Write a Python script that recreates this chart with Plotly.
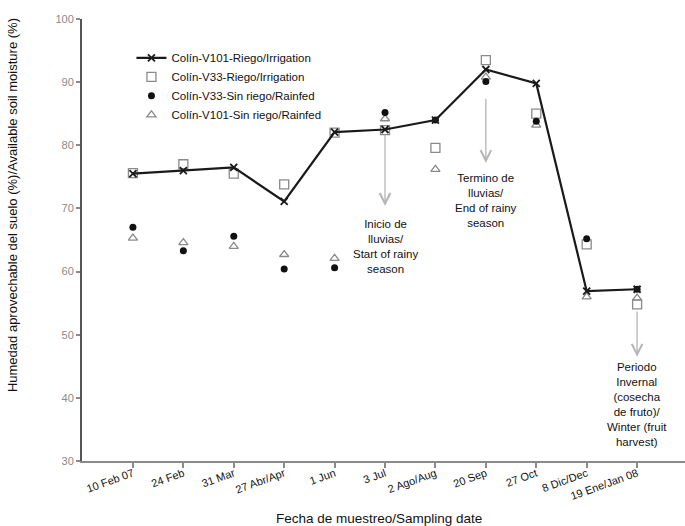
import plotly.graph_objects as go

dates = ["10 Feb 07", "24 Feb", "31 Mar", "27 Abr/Apr", "1 Jun", "3 Jul",
         "2 Ago/Aug", "20 Sep", "27 Oct", "8 Dic/Dec", "19 Ene/Jan 08"]
v101_riego = [75.5, 76.0, 76.5, 71.1, 82.1, 82.5, 84.0, 92.0, 89.8, 56.9, 57.2]
v33_riego = [75.6, 77.0, 75.5, 73.8, 82.0, 82.4, 79.6, 93.5, 85.0, 64.3, 54.8]
v33_rainfed = [67.0, 63.3, 65.6, 60.4, 60.6, 85.2, 84.0, 90.1, 83.8, 65.2, 57.2]
v101_rainfed = [65.3, 64.6, 64.0, 62.7, 62.1, 84.2, 76.2, 90.8, 83.2, 56.0, 55.8]

names = ["Colín-V101-Riego/Irrigation", "Colín-V33-Riego/Irrigation",
         "Colín-V33-Sin riego/Rainfed", "Colín-V101-Sin riego/Rainfed"]

y_ticks = [30, 40, 50, 60, 70, 80, 90, 100]

# annotation texts: (category index, text center y, arrow tail y, arrow head y)
notes = [
    (5, 64.0, 81.9, 70.4, "Inicio de<br>lluvias/<br>Start of rainy<br>season"),
    (7, 71.3, 87.6, 77.2, "Termino de<br>lluvias/<br>End of rainy<br>season"),
    (10, 39.0, 53.9, 46.5, "Periodo<br>Invernal<br>(cosecha<br>de fruto)/<br>Winter (fruit<br>harvest)"),
]

idx = list(range(len(dates)))
fig = go.Figure()

fig.add_trace(go.Scatter(x=idx, y=v33_riego, mode="markers", name=names[1], legendrank=2,
                         marker=dict(symbol="square-open", size=9, color="#8a8a8a",
                                     line=dict(width=1.3))))
fig.add_trace(go.Scatter(x=idx, y=v101_rainfed, mode="markers", name=names[3], legendrank=4,
                         marker=dict(symbol="triangle-up-open", size=8, color="#8a8a8a",
                                     line=dict(width=1.3))))
fig.add_trace(go.Scatter(x=idx, y=v33_rainfed, mode="markers", name=names[2], legendrank=3,
                         marker=dict(symbol="circle", size=7, color="#111111")))
fig.add_trace(go.Scatter(x=idx, y=v101_riego, mode="lines+markers", name=names[0], legendrank=1,
                         line=dict(color="#1a1a1a", width=2.2),
                         marker=dict(symbol="x-thin", size=7, color="#1a1a1a",
                                     line=dict(width=1.8, color="#1a1a1a"))))

for ci, ty, tail, head, txt in notes:
    fig.add_annotation(x=ci, y=head, ax=ci, ay=tail, axref="x", ayref="y", xref="x", yref="y",
                       text="", showarrow=True, arrowhead=5, arrowsize=1.6, arrowwidth=1.3,
                       arrowcolor="#b5b5b5")
    fig.add_annotation(x=ci, y=ty, xref="x", yref="y", text=txt, showarrow=False,
                       align="center", font=dict(size=11.5, color="#111111"),
                       bgcolor="white")

# axis titles
fig.add_annotation(text="Fecha de muestreo/Sampling date", xref="paper", yref="paper",
                   x=0.493, y=0, yshift=-57, xanchor="center", yanchor="middle",
                   showarrow=False, font=dict(size=13.5, color="#111111"))
fig.add_annotation(text="Humedad aprovechable del suelo (%)/Available soil moisture (%)",
                   xref="paper", yref="paper", x=0, xshift=-70, y=0.579,
                   xanchor="center", yanchor="middle", textangle=-90,
                   showarrow=False, font=dict(size=13, color="#111111"))

fig.update_layout(
    width=685, height=526,
    margin=dict(l=82, r=0, t=19, b=65, autoexpand=False),
    plot_bgcolor="white", paper_bgcolor="white",
    font=dict(family="Liberation Sans, Arial, sans-serif", color="#111111"),
    showlegend=True,
    legend=dict(x=0.082, y=0.945, xanchor="left", yanchor="top", bgcolor="rgba(0,0,0,0)",
                font=dict(size=11.5), tracegroupgap=0, itemwidth=30),
)
fig.update_xaxes(
    automargin=False,
    range=[-1.01, 10.95], tickmode="array", tickvals=idx, ticktext=dates,
    tickangle=-20, tickfont=dict(size=11, color="#111111"), ticklabelstandoff=-5,
    showline=True, linecolor="#8a8a8a", linewidth=2, ticks="outside", ticklen=5,
    tickcolor="#8a8a8a", tickwidth=2, showgrid=False, zeroline=False,
)
fig.update_yaxes(
    automargin=False,
    range=[30, 100], tickvals=y_ticks, tickfont=dict(size=11, color="#8a8a8a"),
    showline=True, linecolor="#555555", linewidth=2, ticks="outside", ticklen=4,
    tickcolor="#8a8a8a", tickwidth=1.5, showgrid=False, zeroline=False,
)

fig.write_html("out.html", config={"displayModeBar": False},
               post_script="document.body.style.margin='0';")
